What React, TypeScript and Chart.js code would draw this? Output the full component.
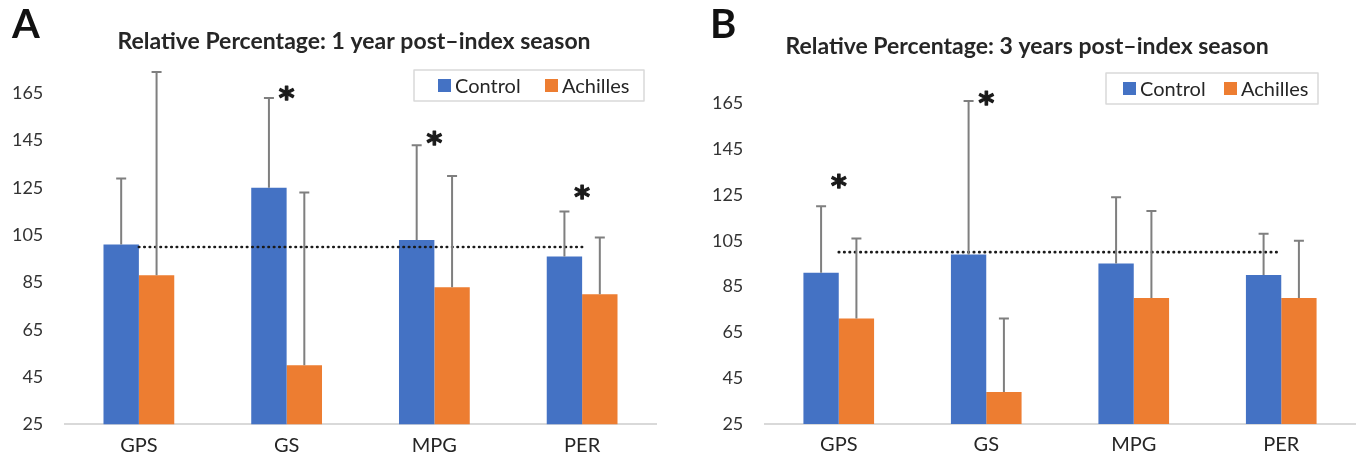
import React, { useEffect, useRef } from 'react';
import { Chart, registerables } from 'chart.js';

Chart.register(...registerables);

// ---------- data ----------
const categories = ['GPS', 'GS', 'MPG', 'PER'];
const seriesNames = ['Control', 'Achilles'];
const yTickValues = [25, 45, 65, 85, 105, 125, 145, 165];

const titleA = 'Relative Percentage: 1 year post\u2013index season';
const controlA = [101, 125, 103, 96];
const achillesA = [88, 50, 83, 80];
const controlUpperA = [129, 163, 143, 115];
const achillesUpperA = [174, 123, 130, 104];
const referenceA = [100, 100, 100, 100];
const significanceA = [null, 165, 146, 123];

const titleB = 'Relative Percentage: 3 years post\u2013index season';
const controlB = [91, 99, 95, 90];
const achillesB = [71, 39, 80, 80];
const controlUpperB = [120, 166, 124, 108];
const achillesUpperB = [106, 71, 118, 105];
const referenceB = [100, 100, 100, 100];
const significanceB = [131, 167, null, null];

// ---------- style ----------
const BLUE = '#4472C4';
const ORANGE = '#ED7D31';
const FONT = 'Lato';
const TEXT = '#262626';

const decorPlugin = {
  id: 'decor',
  afterDatasetsDraw(chart: any) {
    const o = chart.options.plugins.decor;
    const ctx = chart.ctx;
    const ys = chart.scales.y;
    o.uppers.forEach((ups: number[], di: number) => {
      const meta = chart.getDatasetMeta(di);
      meta.data.forEach((bar: any, i: number) => {
        const bx = bar.x;
        const by = bar.y;
        const ty = ys.getPixelForValue(ups[i]);
        ctx.save();
        ctx.strokeStyle = '#7F7F7F';
        ctx.lineWidth = 2;
        ctx.beginPath();
        ctx.moveTo(bx, by);
        ctx.lineTo(bx, ty);
        ctx.moveTo(bx - 5, ty);
        ctx.lineTo(bx + 5, ty);
        ctx.stroke();
        ctx.restore();
      });
    });
  },
  afterDraw(chart: any) {
    const o = chart.options.plugins.decor;
    const ctx = chart.ctx;
    const xs = chart.scales.x;
    const ys = chart.scales.y;
    ctx.save();
    // significance asterisks
    ctx.font = 'bold 30px "DejaVu Sans"';
    ctx.fillStyle = '#1a1a1a';
    ctx.strokeStyle = '#1a1a1a';
    ctx.lineWidth = 1.2;
    ctx.lineJoin = 'round';
    ctx.textAlign = 'center';
    ctx.textBaseline = 'alphabetic';
    const m = ctx.measureText('*');
    const asc = m.actualBoundingBoxAscent;
    const desc = m.actualBoundingBoxDescent;
    o.stars.forEach((v: number | null, i: number) => {
      if (v == null) return;
      const cx = xs.getPixelForValue(i);
      const cy = ys.getPixelForValue(v);
      ctx.fillText('*', cx, cy + (asc - desc) / 2);
      ctx.strokeText('*', cx, cy + (asc - desc) / 2);
    });
    // panel letter
    ctx.fillStyle = '#111';
    ctx.textAlign = 'left';
    ctx.font = `bold 40px ${FONT}`;
    ctx.fillText(o.letter, o.letterX, o.letterY);
    // title
    ctx.fillStyle = TEXT;
    ctx.textAlign = 'center';
    ctx.font = `bold 23px ${FONT}`;
    ctx.fillText(o.title, o.titleX, o.titleY);
    // legend
    const lg = o.legend;
    ctx.fillStyle = '#fff';
    ctx.fillRect(lg.x, lg.y, lg.w, lg.h);
    ctx.strokeStyle = '#D9D9D9';
    ctx.lineWidth = 1.5;
    ctx.strokeRect(lg.x, lg.y, lg.w, lg.h);
    const cy = lg.y + lg.h / 2;
    ctx.font = `20px ${FONT}`;
    ctx.textAlign = 'left';
    ctx.textBaseline = 'middle';
    seriesNames.forEach((name, i) => {
      ctx.fillStyle = [BLUE, ORANGE][i];
      ctx.fillRect(lg.items[i], cy - 6.5, 13, 13);
      ctx.fillStyle = TEXT;
      ctx.fillText(name, lg.items[i] + 17, cy + 1);
    });
    ctx.restore();
  },
};

type PanelProps = {
  left: number;
  width: number;
  padTop: number;
  padRight: number;
  yAxisWidth: number;
  xAxisHeight: number;
  control: number[];
  achilles: number[];
  controlUpper: number[];
  achillesUpper: number[];
  reference: number[];
  stars: (number | null)[];
  letter: string;
  letterX: number;
  letterY: number;
  title: string;
  titleX: number;
  titleY: number;
  legend: { x: number; y: number; w: number; h: number; items: number[] };
};

function Panel(p: PanelProps) {
  const ref = useRef<HTMLCanvasElement | null>(null);
  useEffect(() => {
    if (!ref.current) return;
    const chart = new Chart(ref.current, {
      type: 'bar',
      data: {
        labels: categories,
        datasets: [
          {
            type: 'bar',
            label: seriesNames[0],
            data: p.control,
            backgroundColor: BLUE,
            borderWidth: 0,
            barPercentage: 1,
            categoryPercentage: 0.479,
            order: 2,
          },
          {
            type: 'bar',
            label: seriesNames[1],
            data: p.achilles,
            backgroundColor: ORANGE,
            borderWidth: 0,
            barPercentage: 1,
            categoryPercentage: 0.479,
            order: 2,
          },
          {
            type: 'line',
            label: 'Reference',
            data: p.reference,
            borderColor: '#1a1a1a',
            borderWidth: 2.6,
            borderDash: [0.5, 4.9],
            borderCapStyle: 'round',
            pointRadius: 0,
            fill: false,
            order: 1,
          } as any,
        ],
      },
      options: {
        responsive: false,
        animation: false,
        layout: { padding: { top: p.padTop, right: p.padRight, left: 0, bottom: 0 } },
        plugins: {
          legend: { display: false },
          tooltip: { enabled: false },
          title: { display: false },
          decor: {
            uppers: [p.controlUpper, p.achillesUpper],
            stars: p.stars,
            letter: p.letter,
            letterX: p.letterX - p.left,
            letterY: p.letterY,
            title: p.title,
            titleX: p.titleX - p.left,
            titleY: p.titleY,
            legend: {
              x: p.legend.x - p.left,
              y: p.legend.y,
              w: p.legend.w,
              h: p.legend.h,
              items: p.legend.items.map((v) => v - p.left),
            },
          },
        } as any,
        scales: {
          x: {
            grid: { display: false, drawTicks: false },
            border: { display: true, color: '#D9D9D9', width: 2 },
            ticks: { font: { family: FONT, size: 20 }, color: TEXT, padding: 9 },
            afterFit: (s: any) => {
              s.height = p.xAxisHeight;
            },
          },
          y: {
            min: 25,
            max: 185,
            grid: { display: false, drawTicks: false },
            border: { display: false },
            ticks: {
              stepSize: 20,
              font: { family: FONT, size: 18 },
              color: '#333333',
              padding: 21.7,
            },
            afterBuildTicks: (s: any) => {
              s.ticks = yTickValues.map((v) => ({ value: v }));
            },
            afterFit: (s: any) => {
              s.width = p.yAxisWidth;
            },
          },
        },
      },
      plugins: [decorPlugin],
    });
    return () => chart.destroy();
  }, []);
  return (
    <canvas
      ref={ref}
      width={p.width}
      height={467}
      style={{ position: 'absolute', left: p.left, top: 0, width: p.width, height: 467 }}
    />
  );
}

export default function App() {
  return (
    <div style={{ position: 'fixed', left: 0, top: 0, width: 1357, height: 467, background: '#fff' }}>
      <Panel
        left={0}
        width={680}
        padTop={46}
        padRight={24}
        yAxisWidth={65}
        xAxisHeight={42.7}
        control={controlA}
        achilles={achillesA}
        controlUpper={controlUpperA}
        achillesUpper={achillesUpperA}
        reference={referenceA}
        stars={significanceA}
        letter="A"
        letterX={12}
        letterY={38}
        title={titleA}
        titleX={354}
        titleY={49}
        legend={{ x: 414, y: 70, w: 230, h: 31, items: [438, 545] }}
      />
      <Panel
        left={680}
        width={677}
        padTop={57.4}
        padRight={2}
        yAxisWidth={85}
        xAxisHeight={43}
        control={controlB}
        achilles={achillesB}
        controlUpper={controlUpperB}
        achillesUpper={achillesUpperB}
        reference={referenceB}
        stars={significanceB}
        letter="B"
        letterX={710}
        letterY={38}
        title={titleB}
        titleX={1027}
        titleY={54}
        legend={{ x: 1106, y: 73, w: 212, h: 31, items: [1123, 1224] }}
      />
    </div>
  );
}
